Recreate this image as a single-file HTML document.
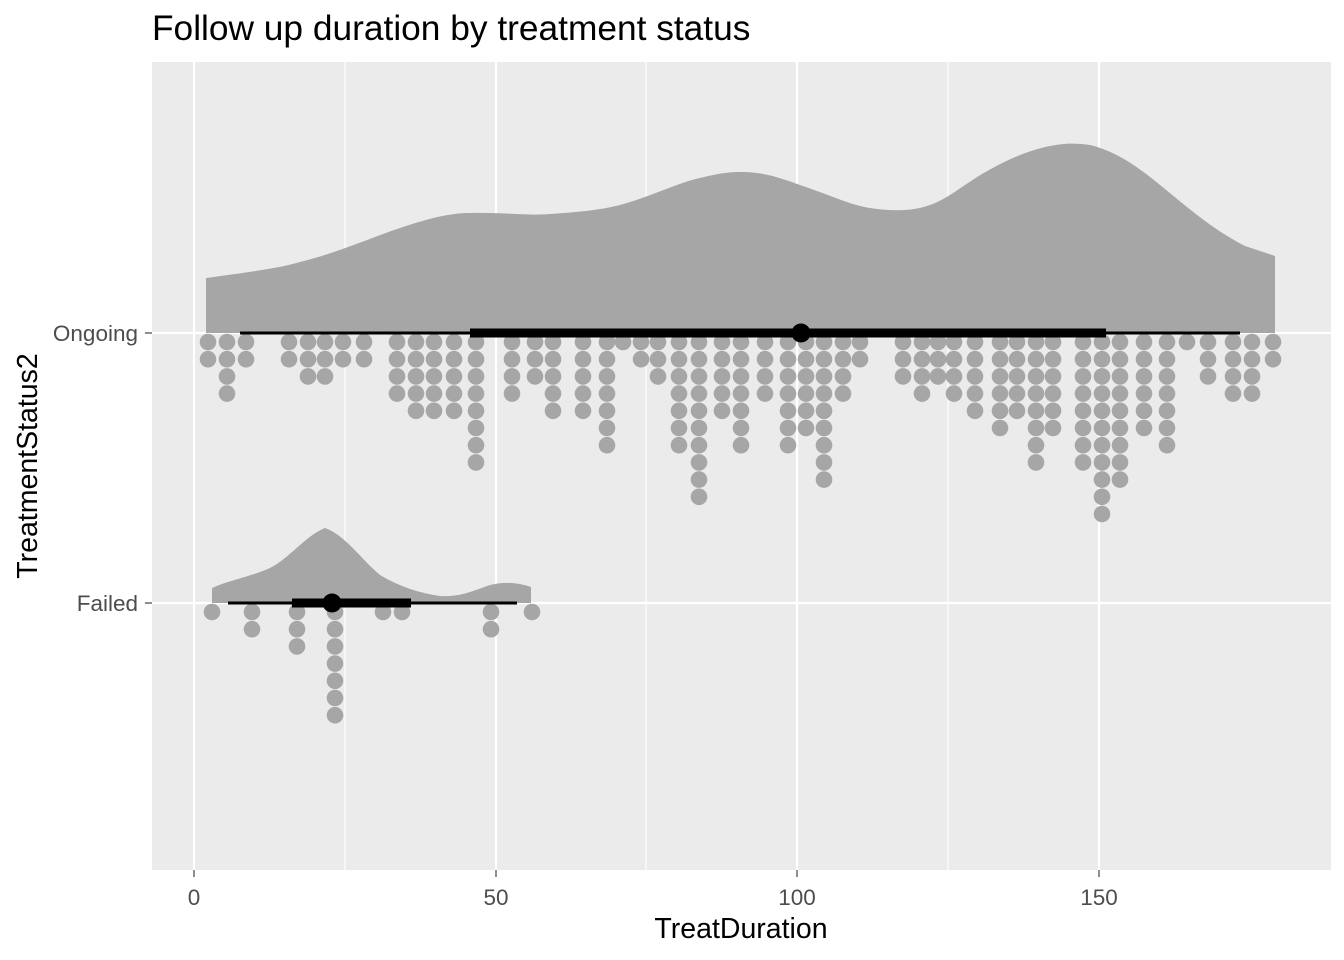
<!DOCTYPE html>
<html><head><meta charset="utf-8"><style>
body{margin:0;background:#fff}
svg{display:block;font-family:"Liberation Sans",sans-serif}
</style></head><body>
<svg id="s" width="1344" height="960" xmlns="http://www.w3.org/2000/svg">
<rect x="152" y="62" width="1179" height="808" fill="#ebebeb"/>
<g stroke="#fff" stroke-width="1.1">
<line x1="345" y1="62" x2="345" y2="870"/><line x1="646" y1="62" x2="646" y2="870"/><line x1="948" y1="62" x2="948" y2="870"/>
</g>
<g stroke="#fff" stroke-width="2.2">
<line x1="194" y1="62" x2="194" y2="870"/><line x1="496" y1="62" x2="496" y2="870"/><line x1="797" y1="62" x2="797" y2="870"/><line x1="1099" y1="62" x2="1099" y2="870"/>
<line x1="152" y1="333" x2="1331" y2="333"/><line x1="152" y1="603" x2="1331" y2="603"/>
</g>
<path fill="#a6a6a6" d="M206,333 L206,278 C250,272 280,268 300,262 C340,252 370,238 400,228 C430,218 450,213 470,213 C500,212 530,216 550,214 C580,212 600,210 620,205 C650,197 680,182 700,178 C720,173 730,172 740,172 C765,172 780,178 800,185 C830,195 850,205 870,208 C890,211 905,211 920,208 C940,203 950,195 965,185 C990,168 1020,152 1050,146 C1065,143 1075,143 1090,145 C1110,150 1130,160 1160,185 C1185,205 1210,228 1245,246 L1275,256 L1275,333 Z"/>
<path fill="#a6a6a6" d="M212,603 L212,588 C230,580 250,577 270,568 C290,558 305,536 325,528 C345,535 360,558 380,575 C400,587 420,593 440,596 C460,597 470,592 490,585 C505,581 520,583 531,587 L531,603 Z"/>
<g id="dots" fill="#a6a6a6"></g>
<g stroke="#000">
<line x1="240" y1="333" x2="1240" y2="333" stroke-width="3"/>
<line x1="470" y1="333" x2="1106" y2="333" stroke-width="9"/>
<line x1="228" y1="603" x2="517" y2="603" stroke-width="3"/>
<line x1="292" y1="603" x2="411" y2="603" stroke-width="9"/>
</g>
<circle cx="801" cy="333" r="9.5" fill="#000"/>
<circle cx="332" cy="603" r="9.5" fill="#000"/>
<g stroke="#333" stroke-width="1.1">
<line x1="145" y1="333" x2="152" y2="333"/><line x1="145" y1="603" x2="152" y2="603"/>
<line x1="194" y1="870" x2="194" y2="877"/><line x1="496" y1="870" x2="496" y2="877"/><line x1="797" y1="870" x2="797" y2="877"/><line x1="1099" y1="870" x2="1099" y2="877"/>
</g>
<g fill="#4d4d4d" font-size="22.5">
<text x="138" y="341" text-anchor="end">Ongoing</text>
<text x="138" y="611" text-anchor="end">Failed</text>
<text x="194" y="905" text-anchor="middle">0</text>
<text x="496" y="905" text-anchor="middle">50</text>
<text x="797" y="905" text-anchor="middle">100</text>
<text x="1099" y="905" text-anchor="middle">150</text>
</g>
<text x="741" y="938" text-anchor="middle" font-size="28.5">TreatDuration</text>
<text transform="translate(37,466) rotate(-90)" text-anchor="middle" font-size="28.5">TreatmentStatus2</text>
<text x="152" y="40" font-size="35.3">Follow up duration by treatment status</text>
</svg>
<script>
var on=[[208,2],[227,4],[246,2],[289,2],[308,3],[325,3],[343,2],[364,2],[397,4],[416,5],[434,5],[454,5],[476,8],[512,4],[535,3],[553,5],[583,5],[607,7],[623,1],[641,2],[658,3],[679,7],[699,10],[722,5],[741,7],[765,4],[788,7],[806,6],[824,9],[843,4],[860,2],[903,3],[922,4],[938,3],[954,4],[975,5],[1000,6],[1017,5],[1036,8],[1053,6],[1083,8],[1102,11],[1120,9],[1144,6],[1167,7],[1187,1],[1208,3],[1233,4],[1252,4],[1273,2]];
var fa=[[212,1],[252,2],[297,3],[335,7],[383,1],[402,1],[491,2],[532,1]];
var g=document.getElementById('dots'),h='';
on.forEach(function(c){for(var i=0;i<c[1];i++)h+='<circle cx="'+c[0]+'" cy="'+(342+i*17.2)+'" r="8.3"/>';});
fa.forEach(function(c){for(var i=0;i<c[1];i++)h+='<circle cx="'+c[0]+'" cy="'+(612+i*17.2)+'" r="8.3"/>';});
g.innerHTML=h;
</script>
</body></html>
